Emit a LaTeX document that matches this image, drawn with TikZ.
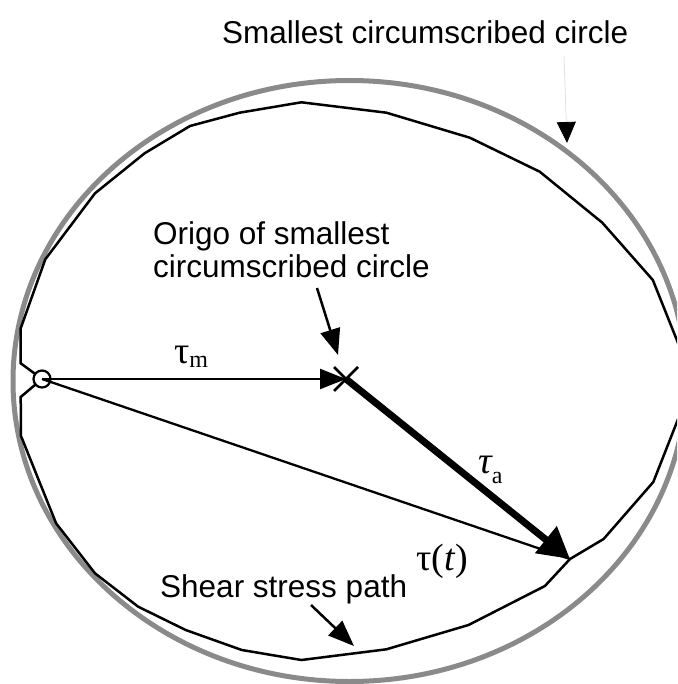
\documentclass[tikz,border=0pt]{standalone}
\usepackage{fontspec}
\setmainfont{Liberation Sans}
\newfontfamily\serifgr{Liberation Serif}
\usetikzlibrary{arrows.meta}
\definecolor{circgray}{RGB}{138,138,138}
\begin{document}
\begin{tikzpicture}[x=1pt,y=-1pt,
  lab/.style={font=\fontsize{31.5}{33}\selectfont, inner sep=0pt, align=left},
  greek/.style={font=\serifgr\fontsize{38}{38}\selectfont, inner sep=0pt},
  pathline/.style={line width=2.5pt, line join=miter},
  thinarrow/.style={line width=2.3pt, -{Triangle[length=26pt,width=20pt]}},
  thickarrow/.style={line width=7pt, -{Triangle[length=31pt,width=33pt]}},
  pointer/.style={line width=2.5pt, -{Triangle[length=26pt,width=20pt]}},
]
\useasboundingbox (0,0) rectangle (677,684);
\clip (0,0) rectangle (677,684);

% smallest circumscribed circle
\draw[line width=5pt, color=circgray] (349.5,381) ellipse [x radius=336.5, y radius=300.5];

% shear stress path
\draw[pathline] (20.7,363.3) -- (20.7,328.3) -- (45.3,259.3) -- (95,193.3) -- (144.6,153.3)
  -- (190,126) -- (239.6,112.7) -- (301.4,102.3) -- (386.4,112.7) -- (469.8,137.7)
  -- (539.7,171.7) -- (602.3,222.7) -- (652.8,280) -- (684,358) -- (684,404)
  -- (653.3,482) -- (603.6,539) -- (570,559) -- (544.9,586) -- (468.5,625)
  -- (386.4,649.3) -- (301.4,660) -- (241.8,650) -- (185.7,630) -- (138.2,606.7)
  -- (95,573.3) -- (56.1,523.3) -- (21,436) -- (20.7,397) -- (42,379) -- cycle;

% key points
\coordinate (O) at (42,379);
\coordinate (C) at (346,379);
\coordinate (T) at (570,559);

\draw[line width=2.2pt, fill=white] (O) circle [radius=8.5];

% vectors
\draw[line width=2.3pt] (O) -- (T);
\draw[thinarrow] (O) -- (C);
\draw[thickarrow] (C) -- (T);
\draw[line width=2.5pt] ([shift={(-12,-12)}]C) -- ([shift={(12,12)}]C)
                        ([shift={(12,-12)}]C) -- ([shift={(-12,12)}]C);

% labels
\node[lab, anchor=base west] (top) at (222,44) {Smallest circumscribed circle};
\coordinate (topstart) at (564,56);
\coordinate (toptip) at (567,143);
\draw[color=black!12, line width=0.8pt, -{Triangle[length=21pt,width=19pt,color=black]}] (topstart) -- (toptip);

\node[lab, anchor=north west] (origo) at (153,221) {Origo of smallest\\circumscribed circle};
\coordinate (os) at (317,288);
\coordinate (ot) at (338,355);
\draw[pointer] (os) -- (ot);

\node[lab, anchor=base west] (shear) at (160,597) {Shear stress path};
\coordinate (ss) at (311,605);
\coordinate (st) at (354,646);
\draw[pointer] (ss) -- (st);

\node[greek, anchor=base west] (taum) at (174,363) {τ\raisebox{-4pt}{\fontsize{24}{24}\selectfont m}};
\node[greek, anchor=base west] (taua) at (478,473) {\itshape τ\raisebox{-10pt}{\upshape\fontsize{24}{24}\selectfont a}};
\node[greek, anchor=base west] (taut) at (416,570) {τ(\textit{t})};
\end{tikzpicture}
\end{document}
